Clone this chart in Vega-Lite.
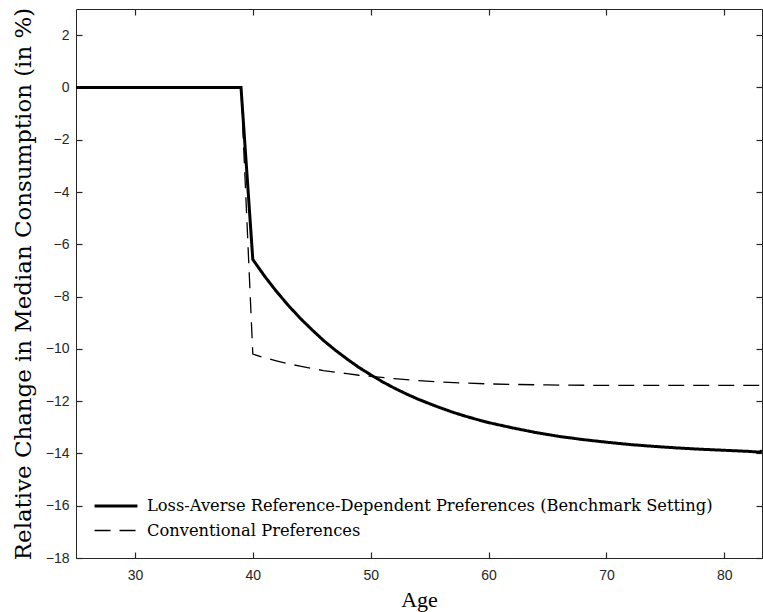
{
  "$schema": "https://vega.github.io/schema/vega-lite/v6.json",
  "width": 686,
  "height": 549,
  "autosize": "none",
  "padding": {"left": 76, "top": 9, "right": 1, "bottom": 54},
  "background": "white",
  "config": {
    "view": {"stroke": "#262626", "strokeWidth": 1},
    "axis": {
      "grid": false,
      "ticks": true,
      "zindex": 1,
      "domain": false,
      "offset": -6,
      "tickColor": "#262626",
      "tickWidth": 1.2,
      "tickSize": 6,
      "labelFont": "Liberation Sans",
      "labelFontSize": 14,
      "labelColor": "#262626",
      "titleFont": "DejaVu Serif",
      "titleFontWeight": "normal",
      "titleColor": "#000000"
    },
    "legend": {
      "labelFont": "DejaVu Serif",
      "labelFontSize": 16.3,
      "labelColor": "#000000",
      "labelLimit": 0
    }
  },
  "datasets": {
    "lines": [
      {"age": 25, "value": 0, "series": "Loss-Averse Reference-Dependent Preferences (Benchmark Setting)"},
      {"age": 39, "value": 0, "series": "Loss-Averse Reference-Dependent Preferences (Benchmark Setting)"},
      {"age": 40, "value": -6.58, "series": "Loss-Averse Reference-Dependent Preferences (Benchmark Setting)"},
      {"age": 41, "value": -7.22, "series": "Loss-Averse Reference-Dependent Preferences (Benchmark Setting)"},
      {"age": 42, "value": -7.80, "series": "Loss-Averse Reference-Dependent Preferences (Benchmark Setting)"},
      {"age": 43, "value": -8.33, "series": "Loss-Averse Reference-Dependent Preferences (Benchmark Setting)"},
      {"age": 44, "value": -8.82, "series": "Loss-Averse Reference-Dependent Preferences (Benchmark Setting)"},
      {"age": 45, "value": -9.26, "series": "Loss-Averse Reference-Dependent Preferences (Benchmark Setting)"},
      {"age": 46, "value": -9.68, "series": "Loss-Averse Reference-Dependent Preferences (Benchmark Setting)"},
      {"age": 47, "value": -10.05, "series": "Loss-Averse Reference-Dependent Preferences (Benchmark Setting)"},
      {"age": 48, "value": -10.39, "series": "Loss-Averse Reference-Dependent Preferences (Benchmark Setting)"},
      {"age": 49, "value": -10.71, "series": "Loss-Averse Reference-Dependent Preferences (Benchmark Setting)"},
      {"age": 50, "value": -10.99, "series": "Loss-Averse Reference-Dependent Preferences (Benchmark Setting)"},
      {"age": 51, "value": -11.26, "series": "Loss-Averse Reference-Dependent Preferences (Benchmark Setting)"},
      {"age": 52, "value": -11.50, "series": "Loss-Averse Reference-Dependent Preferences (Benchmark Setting)"},
      {"age": 53, "value": -11.72, "series": "Loss-Averse Reference-Dependent Preferences (Benchmark Setting)"},
      {"age": 54, "value": -11.92, "series": "Loss-Averse Reference-Dependent Preferences (Benchmark Setting)"},
      {"age": 55, "value": -12.10, "series": "Loss-Averse Reference-Dependent Preferences (Benchmark Setting)"},
      {"age": 56, "value": -12.27, "series": "Loss-Averse Reference-Dependent Preferences (Benchmark Setting)"},
      {"age": 57, "value": -12.43, "series": "Loss-Averse Reference-Dependent Preferences (Benchmark Setting)"},
      {"age": 58, "value": -12.57, "series": "Loss-Averse Reference-Dependent Preferences (Benchmark Setting)"},
      {"age": 59, "value": -12.70, "series": "Loss-Averse Reference-Dependent Preferences (Benchmark Setting)"},
      {"age": 60, "value": -12.82, "series": "Loss-Averse Reference-Dependent Preferences (Benchmark Setting)"},
      {"age": 62, "value": -13.02, "series": "Loss-Averse Reference-Dependent Preferences (Benchmark Setting)"},
      {"age": 64, "value": -13.20, "series": "Loss-Averse Reference-Dependent Preferences (Benchmark Setting)"},
      {"age": 66, "value": -13.35, "series": "Loss-Averse Reference-Dependent Preferences (Benchmark Setting)"},
      {"age": 68, "value": -13.47, "series": "Loss-Averse Reference-Dependent Preferences (Benchmark Setting)"},
      {"age": 70, "value": -13.57, "series": "Loss-Averse Reference-Dependent Preferences (Benchmark Setting)"},
      {"age": 72, "value": -13.66, "series": "Loss-Averse Reference-Dependent Preferences (Benchmark Setting)"},
      {"age": 74, "value": -13.73, "series": "Loss-Averse Reference-Dependent Preferences (Benchmark Setting)"},
      {"age": 76, "value": -13.79, "series": "Loss-Averse Reference-Dependent Preferences (Benchmark Setting)"},
      {"age": 78, "value": -13.84, "series": "Loss-Averse Reference-Dependent Preferences (Benchmark Setting)"},
      {"age": 80, "value": -13.88, "series": "Loss-Averse Reference-Dependent Preferences (Benchmark Setting)"},
      {"age": 82, "value": -13.92, "series": "Loss-Averse Reference-Dependent Preferences (Benchmark Setting)"},
      {"age": 83, "value": -13.95, "series": "Loss-Averse Reference-Dependent Preferences (Benchmark Setting)"},
      {"age": 83.2, "value": -13.9, "series": "Loss-Averse Reference-Dependent Preferences (Benchmark Setting)"},
      {"age": 25, "value": 0, "series": "Conventional Preferences"},
      {"age": 39, "value": 0, "series": "Conventional Preferences"},
      {"age": 40, "value": -10.2, "series": "Conventional Preferences"},
      {"age": 41, "value": -10.34, "series": "Conventional Preferences"},
      {"age": 42, "value": -10.46, "series": "Conventional Preferences"},
      {"age": 43, "value": -10.57, "series": "Conventional Preferences"},
      {"age": 44, "value": -10.66, "series": "Conventional Preferences"},
      {"age": 45, "value": -10.75, "series": "Conventional Preferences"},
      {"age": 46, "value": -10.83, "series": "Conventional Preferences"},
      {"age": 47, "value": -10.89, "series": "Conventional Preferences"},
      {"age": 48, "value": -10.95, "series": "Conventional Preferences"},
      {"age": 49, "value": -11.01, "series": "Conventional Preferences"},
      {"age": 50, "value": -11.05, "series": "Conventional Preferences"},
      {"age": 52, "value": -11.14, "series": "Conventional Preferences"},
      {"age": 54, "value": -11.21, "series": "Conventional Preferences"},
      {"age": 56, "value": -11.27, "series": "Conventional Preferences"},
      {"age": 58, "value": -11.31, "series": "Conventional Preferences"},
      {"age": 60, "value": -11.34, "series": "Conventional Preferences"},
      {"age": 62, "value": -11.36, "series": "Conventional Preferences"},
      {"age": 65, "value": -11.38, "series": "Conventional Preferences"},
      {"age": 70, "value": -11.40, "series": "Conventional Preferences"},
      {"age": 75, "value": -11.40, "series": "Conventional Preferences"},
      {"age": 80, "value": -11.40, "series": "Conventional Preferences"},
      {"age": 83.2, "value": -11.40, "series": "Conventional Preferences"}
    ]
  },
  "data": {"name": "lines"},
  "layer": [
    {
      "mark": {"type": "line", "color": "black", "clip": true},
      "encoding": {
        "x": {
          "field": "age", "type": "quantitative",
          "scale": {"domain": [25, 83.2], "nice": false, "zero": false},
          "axis": {"orient": "bottom", "values": [30, 40, 50, 60, 70, 80], "labelPadding": 10, "title": "Age", "titleFont": "Liberation Serif", "titleFontSize": 22, "titlePadding": 7}
        },
        "y": {
          "field": "value", "type": "quantitative",
          "scale": {"domain": [-18, 3], "nice": false, "zero": false},
          "axis": {"orient": "left", "values": [-18, -16, -14, -12, -10, -8, -6, -4, -2, 0, 2], "labelPadding": 7, "title": "Relative Change in Median Consumption (in %)", "titleFontSize": 22.9, "titlePadding": 10}
        },
        "strokeDash": {
          "field": "series", "type": "nominal",
          "scale": {"domain": ["Loss-Averse Reference-Dependent Preferences (Benchmark Setting)", "Conventional Preferences"], "range": [[1, 0], [16, 9]]},
          "legend": {"orient": "none", "legendX": 24, "legendY": 481, "title": null, "symbolType": "M-1.48,0H1.48", "symbolSize": 841, "labelOffset": 15, "rowPadding": 0, "symbolStrokeColor": "black", "symbolFillColor": "transparent", "padding": 0}
        },
        "strokeWidth": {
          "field": "series", "type": "nominal",
          "scale": {"domain": ["Loss-Averse Reference-Dependent Preferences (Benchmark Setting)", "Conventional Preferences"], "range": [3, 1.3]},
          "legend": {"orient": "none", "legendX": 24, "legendY": 481, "title": null, "symbolType": "M-1.48,0H1.48", "symbolSize": 841, "labelOffset": 15, "rowPadding": 0, "symbolStrokeColor": "black", "symbolFillColor": "transparent", "padding": 0}
        }
      }
    },
    {
      "mark": {"type": "line", "opacity": 0},
      "encoding": {
        "x": {"field": "age", "type": "quantitative", "axis": {"orient": "top", "values": [30, 40, 50, 60, 70, 80], "labels": false, "title": null}},
        "y": {"field": "value", "type": "quantitative", "axis": {"orient": "right", "values": [-18, -16, -14, -12, -10, -8, -6, -4, -2, 0, 2], "labels": false, "title": null}},
        "detail": {"field": "series"}
      }
    }
  ],
  "resolve": {"axis": {"x": "independent", "y": "independent"}}
}
